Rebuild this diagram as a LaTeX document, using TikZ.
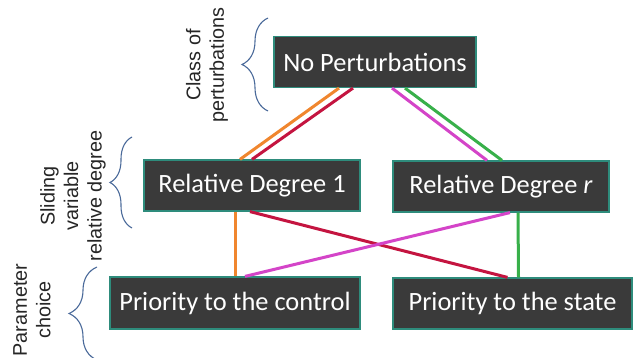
\documentclass[tikz,border=0pt]{standalone}
\usepackage{fontspec}
\setmainfont{Carlito}
\newfontfamily\sidefont{Liberation Sans}
\usetikzlibrary{decorations.pathreplacing}
\definecolor{boxfill}{HTML}{3A3A3A}
\definecolor{boxedge}{HTML}{2E8C7C}
\definecolor{bracecol}{HTML}{4A6A9A}
\definecolor{linkorange}{HTML}{F0862E}
\definecolor{linkred}{HTML}{C41440}
\definecolor{linkmagenta}{HTML}{D444C8}
\definecolor{linkgreen}{HTML}{38B04A}
\tikzset{
  levelbox/.style={draw=boxedge, fill=boxfill, line width=1.2pt, text=white,
    font=\fontsize{26.4}{30}\selectfont, minimum height=51pt, inner sep=0pt},
  link/.style={line width=3pt},
  levelbrace/.style={draw=bracecol, line width=1.1pt, decorate,
    decoration={brace, amplitude=#1}},
  sidelabel/.style={rotate=90, align=center, text=black!85,
    font=\sidefont\fontsize{19.8}{23.5}\selectfont}
}
\begin{document}
\begin{tikzpicture}[x=1pt, y=-1pt]
		\useasboundingbox[fill=white] (0, 0) rectangle (634, 358);
		
		%%%%% BOXES %%%%%
		\node[levelbox, minimum width=202pt] (top) at (375, 62) {No Perturbations};
		\node[levelbox, minimum width=216pt] (rel1) at (252, 185.5) {Relative Degree 1};
		\node[levelbox, minimum width=216pt] (relr) at (501, 186.5) {Relative Degree \textit{r}};
		\node[levelbox, minimum width=250pt, minimum height=52pt] (prioctrl) at (235, 303) {Priority to the control};
		\node[levelbox, minimum width=239pt] (priostate) at (512.5, 303.5) {Priority to the state};
		
		%%%%% LINKS %%%%%
		\draw[link, linkorange] ([xshift=-36pt]top.south) -- ([xshift=-12pt]rel1.north);
		\draw[link, linkred] ([xshift=-22pt]top.south) -- ([xshift=0pt]rel1.north);
		\draw[link, linkmagenta] ([xshift=17pt]top.south) -- ([xshift=-14pt]relr.north);
		\draw[link, linkgreen] ([xshift=30pt]top.south) -- ([xshift=1pt]relr.north);
		
		\draw[link, linkorange] ([xshift=-17pt]rel1.south) -- ([xshift=0pt]prioctrl.north);
		\draw[link, linkred] ([xshift=-2pt]rel1.south) -- ([xshift=-5pt]priostate.north);
		\draw[link, linkmagenta] ([xshift=9pt]relr.south) -- ([xshift=10pt]prioctrl.north);
		\draw[link, linkgreen] ([xshift=17pt]relr.south) -- ([xshift=6pt]priostate.north);
		
		%%%%% BRACES %%%%%
		\draw[levelbrace=26pt] (268, 111) -- (268, 18);
		\draw[levelbrace=22pt] (132, 228) -- (132, 137);
		\draw[levelbrace=28pt] (97, 360) -- (97, 267);
		
		\node[sidelabel] (classlbl) at (207, 65) {Class of\\perturbations};
		\node[sidelabel] (slidelbl) at (73, 196) {Sliding\\variable\\relative degree};
		\node[sidelabel] (paramlbl) at (32, 310) {Parameter\\choice};
		
\end{tikzpicture}
\end{document}
